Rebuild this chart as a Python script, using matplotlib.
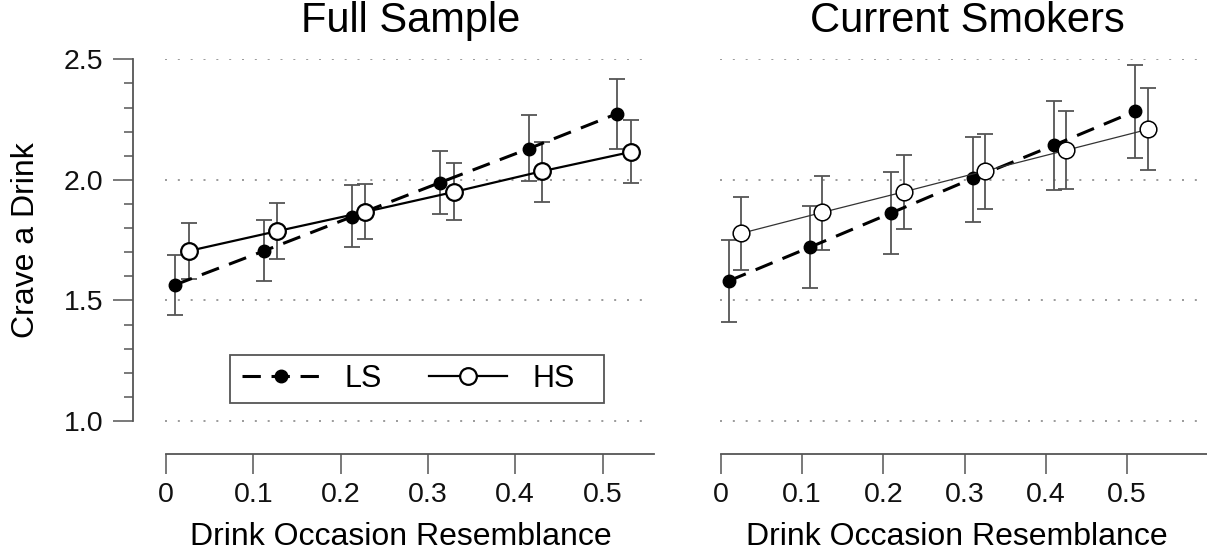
import numpy as np
import matplotlib
matplotlib.use("Agg")
import matplotlib.pyplot as plt
from matplotlib.ticker import FixedLocator
from matplotlib.patches import Rectangle

plt.rcParams['font.family'] = ['Liberation Sans', 'DejaVu Sans']

# Full Sample
full_x_ls = [0.010, 0.112, 0.213, 0.314, 0.416, 0.517]
full_x_hs = [0.026, 0.127, 0.228, 0.330, 0.431, 0.533]
full_ls = [1.564, 1.705, 1.847, 1.989, 2.130, 2.275]
full_ls_lo = [1.438, 1.579, 1.720, 1.859, 1.996, 2.130]
full_ls_hi = [1.688, 1.833, 1.977, 2.120, 2.267, 2.417]
full_hs = [1.705, 1.787, 1.867, 1.950, 2.036, 2.116]
full_hs_lo = [1.587, 1.670, 1.753, 1.832, 1.909, 1.985]
full_hs_hi = [1.819, 1.902, 1.983, 2.070, 2.158, 2.247]

# Current Smokers
cur_x_ls = [0.010, 0.110, 0.210, 0.310, 0.410, 0.510]
cur_x_hs = [0.025, 0.125, 0.225, 0.325, 0.425, 0.525]
cur_ls = [1.581, 1.721, 1.863, 2.006, 2.144, 2.285]
cur_ls_lo = [1.412, 1.552, 1.691, 1.826, 1.960, 2.091]
cur_ls_hi = [1.750, 1.892, 2.033, 2.178, 2.326, 2.478]
cur_hs = [1.778, 1.865, 1.950, 2.037, 2.123, 2.209]
cur_hs_lo = [1.626, 1.711, 1.797, 1.880, 1.961, 2.040]
cur_hs_hi = [1.930, 2.015, 2.102, 2.192, 2.286, 2.379]

grid_y = [1.0, 1.5, 2.0, 2.5]
x_ticks = [0, 0.1, 0.2, 0.3, 0.4, 0.5]
x_ticklabels = ['0', '0.1', '0.2', '0.3', '0.4', '0.5']
y_ticks = [1.0, 1.5, 2.0, 2.5]
y_minor = [1.1, 1.2, 1.3, 1.4, 1.6, 1.7, 1.8, 1.9, 2.1, 2.2, 2.3, 2.4]

W, H = 1207, 559
fig = plt.figure(figsize=(W / 100, H / 100), dpi=100)

axis_col = '#555555'
err_col = '#555555'
dash = (0, (6, 3.5))


def px_axes(left, right, top, bottom):
    return fig.add_axes([left / W, 1 - bottom / H, (right - left) / W, (bottom - top) / H])


def errs(m, lo, hi):
    m, lo, hi = np.array(m), np.array(lo), np.array(hi)
    return [m - lo, hi - m]


def draw_panel(ax, x_ls, ls, ls_lo, ls_hi, x_hs, hs, hs_lo, hs_hi, hs_lw, hs_col, hs_mew, gx):
    ax.hlines(grid_y, gx[0], gx[1], colors='#8a8a8a', linestyles=(0, (1.2, 6.5)),
              linewidth=1.2, zorder=0)
    ax.errorbar(x_ls, ls, yerr=errs(ls, ls_lo, ls_hi), fmt='none', ecolor=err_col,
                elinewidth=1.3, capsize=5.5, capthick=1.3, zorder=2, clip_on=False)
    ax.errorbar(x_hs, hs, yerr=errs(hs, hs_lo, hs_hi), fmt='none', ecolor=err_col,
                elinewidth=1.3, capsize=5.5, capthick=1.3, zorder=2, clip_on=False)
    ax.plot(x_ls, ls, linestyle=dash, color='black', lw=2.2, marker='o', ms=9,
            mfc='black', mec='black', zorder=3, label='LS', clip_on=False)
    ax.plot(x_hs, hs, linestyle='-', color=hs_col, lw=hs_lw, marker='o', ms=12,
            mfc='white', mec='black', mew=hs_mew, zorder=4, label='HS', clip_on=False)

    for s in ['top', 'right']:
        ax.spines[s].set_visible(False)
    ax.spines['bottom'].set_color(axis_col)
    ax.spines['bottom'].set_linewidth(1.3)
    ax.set_xticks(x_ticks)
    ax.set_xticklabels(x_ticklabels)
    ax.tick_params(axis='x', length=14.4, width=1.1, color=axis_col, pad=6,
                   labelsize=20.5, labelcolor='#111111')
    ax.set_ylim(0.863, 2.5)


# left panel
ax1 = px_axes(133, 654, 59.3, 454)
ax1.set_xlim((133 - 166) / 873, (654 - 166) / 873)
draw_panel(ax1, full_x_ls, full_ls, full_ls_lo, full_ls_hi,
           full_x_hs, full_hs, full_hs_lo, full_hs_hi, 1.6, 'black', 1.6,
           ((165 - 166) / 873, (647 - 166) / 873))
ax1.spines['bottom'].set_bounds(0, (654 - 166) / 873)
ax1.spines['left'].set_bounds(1.0, 2.5)
ax1.spines['left'].set_color(axis_col)
ax1.spines['left'].set_linewidth(1.3)
ax1.set_yticks(y_ticks)
ax1.set_yticklabels(['1.0', '1.5', '2.0', '2.5'])
ax1.yaxis.set_minor_locator(FixedLocator(y_minor))
ax1.tick_params(axis='y', which='major', length=14.4, width=1.1, color=axis_col,
                pad=7, labelsize=20.5, labelcolor='#111111')
ax1.tick_params(axis='y', which='minor', length=6.5, width=1.1, color=axis_col)
ax1.set_title('Full Sample', fontsize=30, x=(411 - 133) / 521, y=(454 - 29) / 394.7, va='center')
ax1.set_xlabel('Drink Occasion Resemblance', fontsize=23, va='center')
ax1.xaxis.set_label_coords((400.5 - 133) / 521, (454 - 537) / 394.7)

# legend box drawn separately so its width matches
bx0, bx1 = (230 - 133) / 521, (604 - 133) / 521
by0, by1 = (454 - 403) / 394.7, (454 - 355) / 394.7
ax1.add_patch(Rectangle((bx0, by0), bx1 - bx0, by1 - by0, transform=ax1.transAxes,
                        facecolor='white', edgecolor=axis_col, lw=1.3, zorder=5))
leg = ax1.legend(ncol=2, loc='center left',
                 bbox_to_anchor=((242 - 133) / 521, (by0 + by1) / 2),
                 fontsize=22, handlelength=2.55, handletextpad=0.82, columnspacing=1.54,
                 borderpad=0, borderaxespad=0, frameon=False)
leg.set_zorder(6)

# right panel
ax2 = px_axes(720, 1207, 59.3, 454)
ax2.set_xlim((720 - 720.7) / 813, (1207 - 720.7) / 813)
draw_panel(ax2, cur_x_ls, cur_ls, cur_ls_lo, cur_ls_hi,
           cur_x_hs, cur_hs, cur_hs_lo, cur_hs_hi, 0.9, '#333333', 1.1,
           ((720 - 720.7) / 813, (1207 - 720.7) / 813))
ax2.spines['left'].set_visible(False)
ax2.spines['bottom'].set_bounds(0, (1207 - 720.7) / 813)
ax2.tick_params(axis='y', left=False, labelleft=False)
ax2.set_title('Current Smokers', fontsize=30, x=(967 - 720) / 487, y=(454 - 29) / 394.7, va='center')
ax2.set_xlabel('Drink Occasion Resemblance', fontsize=23, va='center')
ax2.xaxis.set_label_coords((957 - 720) / 487, (454 - 537) / 394.7)

fig.text(26 / W, 1 - 240 / H, 'Crave a Drink', rotation=90, fontsize=23,
         ha='center', va='center')

fig.savefig('out.png', dpi=100)
